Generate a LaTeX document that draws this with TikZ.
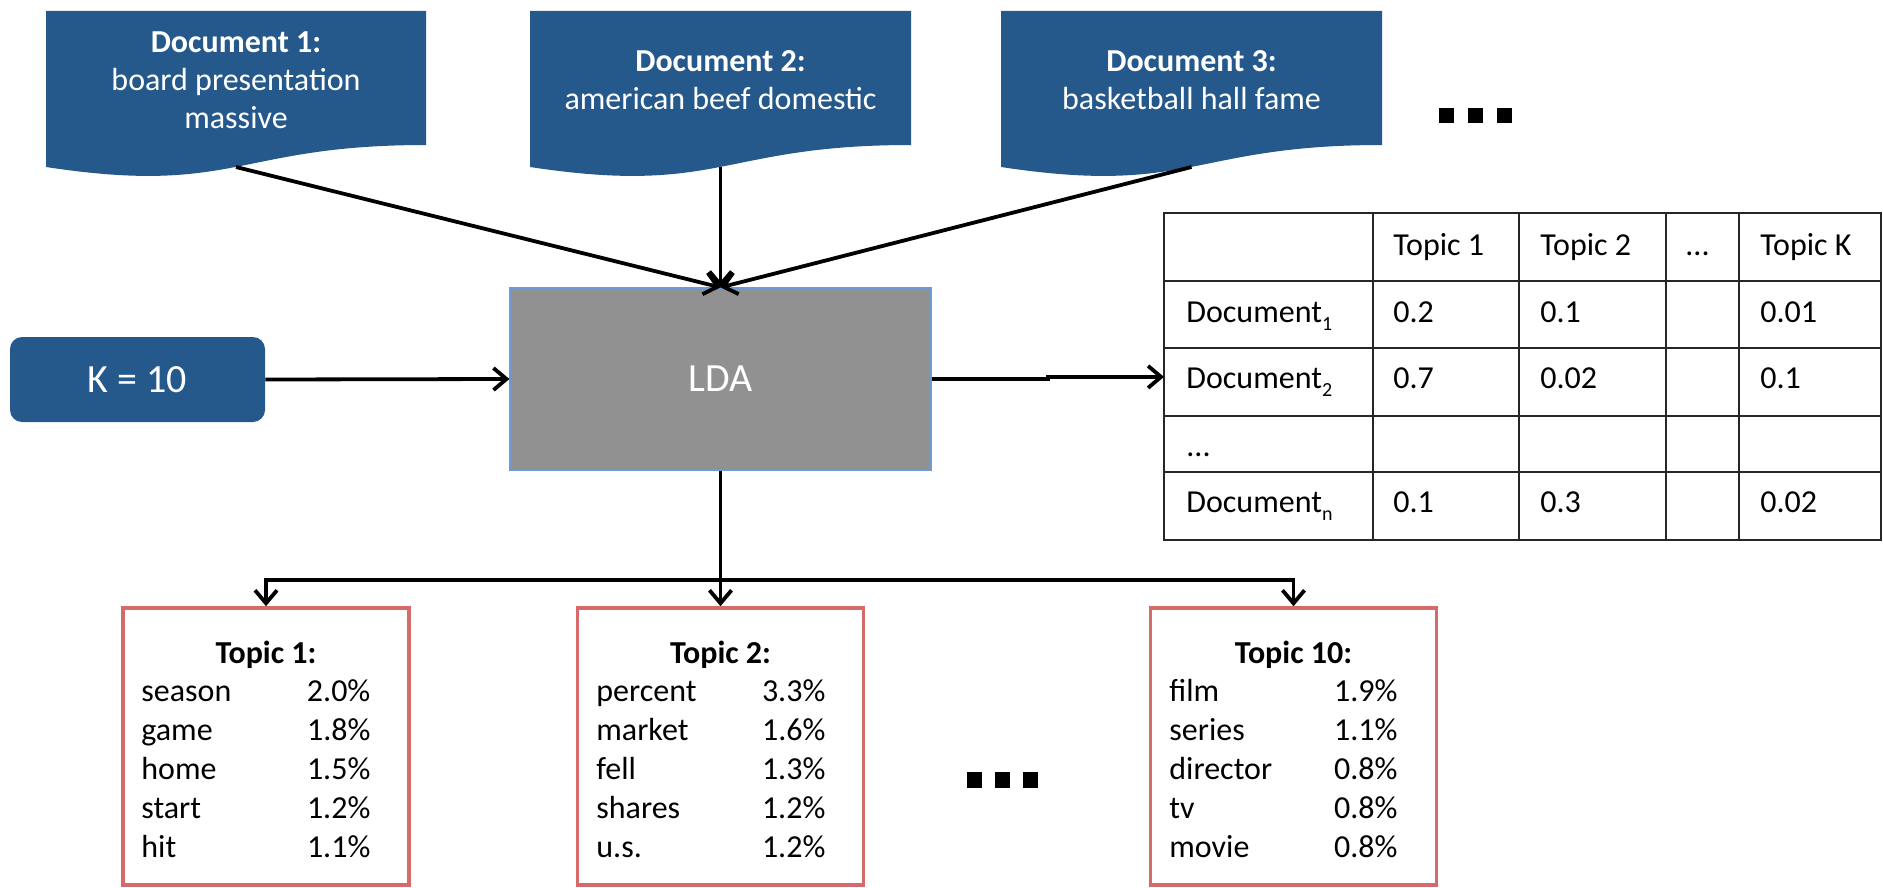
\documentclass[tikz,border=0pt]{standalone}
\usepackage{fontspec}
\setmainfont{Carlito}
\usetikzlibrary{arrows.meta,calc}
\definecolor{docblue}{RGB}{38,89,139}
\definecolor{ldagray}{RGB}{145,145,145}
\definecolor{ldaborder}{RGB}{110,155,210}
\definecolor{topicred}{RGB}{212,106,106}
\newcommand{\subidx}[1]{\raisebox{-4pt}{\fontsize{10}{10}\selectfont #1}}
\tikzset{
  conn/.style={line width=1.9pt, draw=black},
  arr/.style={conn, -{Straight Barb[length=6.5pt,width=11pt,line width=1.9pt]}},
  doctext/.style={text=white, align=center, font=\fontsize{16}{19}\selectfont, inner sep=0pt},
  topicbox/.style={draw=topicred, line width=1.8pt, minimum width=143pt, minimum height=138.5pt, inner sep=0pt},
  ttitle/.style={anchor=base, inner sep=0pt, font=\bfseries\fontsize{16}{19.5}\selectfont},
  trows/.style={anchor=base west, inner sep=0pt, font=\fontsize{16}{19.5}\selectfont},
  cell/.style={anchor=base west, inner sep=0pt, font=\fontsize{16}{19}\selectfont},
  tabline/.style={line width=1pt, draw=black!85},
  ldabox/.style={fill=ldagray, draw=ldaborder, line width=0.6pt, minimum width=210.5pt, minimum height=91pt, text=white, font=\fontsize{20}{24}\selectfont},
  kbox/.style={fill=docblue, rounded corners=6pt, minimum width=127.5pt, minimum height=42.5pt, text=white, font=\fontsize{20}{24}\selectfont},
  dotsq/.style={fill=black}
}
\begin{document}
\begin{tikzpicture}[x=0.5pt,y=-0.5pt]
\useasboundingbox (0,0) rectangle (1883,888);

% document shapes
\fill[docblue] (46,11) -- (426,11) -- (426,145) .. controls (236,145) and (236,196) .. (46,167) -- cycle;
\fill[docblue] (530,11) -- (911,11) -- (911,145) .. controls (720.5,145) and (720.5,196) .. (530,167) -- cycle;
\fill[docblue] (1001,11) -- (1382,11) -- (1382,145) .. controls (1191.5,145) and (1191.5,196) .. (1001,167) -- cycle;
\node[doctext] (d1) at (236,80) {\textbf{Document 1:}\\board presentation\\massive};
\node[doctext] (d2) at (720.5,80) {\textbf{Document 2:}\\american beef domestic};
\node[doctext] (d3) at (1191.5,80) {\textbf{Document 3:}\\basketball hall fame};
\coordinate (d1b) at (236,167);
\coordinate (d2b) at (720.5,167);
\coordinate (d3b) at (1191.5,167);

% dots top right
\fill[dotsq] (1439,108) rectangle ++(15,15);
\fill[dotsq] (1468,108) rectangle ++(15,15);
\fill[dotsq] (1497,108) rectangle ++(15,15);

% LDA and K
\node[ldabox] (lda) at (720.5,379) {LDA};
\node[kbox] (k) at (137.5,379.5) {K = 10};

% table
\node[minimum width=358.5pt, minimum height=163.5pt, inner sep=0pt, anchor=north west] (tab) at (1164,213) {};
\draw[tabline] (1164,213) rectangle (1881,540);
\foreach \yy in {281,348,416,472} \draw[tabline] (1164,\yy) -- (1881,\yy);
\foreach \xx in {1373,1519,1666,1739} \draw[tabline] (\xx,213) -- (\xx,540);
\node[cell] (h1) at (1393,255) {Topic 1};
\node[cell] (h2) at (1540,255) {Topic 2};
\node[cell] (h3) at (1685,255) {...};
\node[cell] (h4) at (1760,255) {Topic K};
\node[cell] (r1) at (1186,322) {Document\subidx{1}};
\node[cell] (r1a) at (1393,322) {0.2};
\node[cell] (r1b) at (1540,322) {0.1};
\node[cell] (r1d) at (1760,322) {0.01};
\node[cell] (r2) at (1186,388) {Document\subidx{2}};
\node[cell] (r2a) at (1393,388) {0.7};
\node[cell] (r2b) at (1540,388) {0.02};
\node[cell] (r2d) at (1760,388) {0.1};
\node[cell] (r3) at (1186,456) {...};
\node[cell] (rn) at (1186,512) {Document\subidx{n}};
\node[cell] (rna) at (1393,512) {0.1};
\node[cell] (rnb) at (1540,512) {0.3};
\node[cell] (rnd) at (1760,512) {0.02};

% topic boxes
\node[topicbox] (t1) at (266,746.5) {};
\node[topicbox] (t2) at (720.5,746.5) {};
\node[topicbox] (t10) at (1293.5,746.5) {};
\node[ttitle] (t1h) at (266,663) {Topic 1:};
\node[ttitle] (t2h) at (720.5,663) {Topic 2:};
\node[ttitle] (t10h) at (1293.5,663) {Topic 10:};
\node[trows] (t1r) at (141,701) {\begin{tabular*}{114.5pt}[t]{@{}l@{\extracolsep{\fill}}r@{}}season & 2.0\%\\game & 1.8\%\\home & 1.5\%\\start & 1.2\%\\hit & 1.1\%\end{tabular*}};
\node[trows] (t2r) at (596,701) {\begin{tabular*}{114.5pt}[t]{@{}l@{\extracolsep{\fill}}r@{}}percent & 3.3\%\\market & 1.6\%\\fell & 1.3\%\\shares & 1.2\%\\u.s. & 1.2\%\end{tabular*}};
\node[trows] (t10r) at (1169,701) {\begin{tabular*}{114pt}[t]{@{}l@{\extracolsep{\fill}}r@{}}film & 1.9\%\\series & 1.1\%\\director & 0.8\%\\tv & 0.8\%\\movie & 0.8\%\end{tabular*}};

% dots bottom
\fill[dotsq] (967,772) rectangle ++(15,16);
\fill[dotsq] (995,772) rectangle ++(15,16);
\fill[dotsq] (1023,772) rectangle ++(15,16);

% connectors
\draw[arr] (d1b) -- (lda.north);
\draw[arr] (d2b) -- (lda.north);
\draw[arr] (d3b) -- (lda.north);
\draw[arr] (k.east) -- (lda.west);
\draw[arr] (lda.east) -- ++(116,0) |- (tab.west);
\draw[conn] (lda.south) -- ++(0,109) coordinate (bj);
\draw[arr] (bj) -| (t1.north);
\draw[arr] (bj) -- (t2.north);
\draw[arr] (bj) -| (t10.north);
\end{tikzpicture}
\end{document}
